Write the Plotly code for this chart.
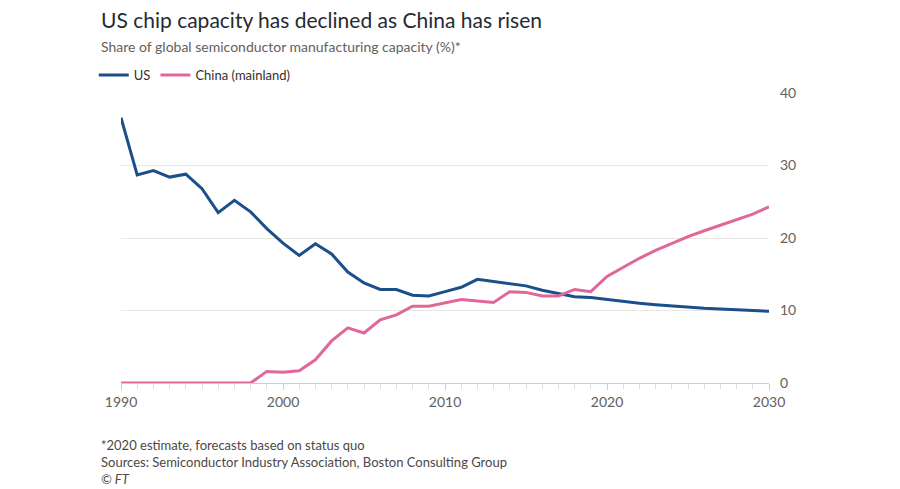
import plotly.graph_objects as go

years = list(range(1990, 2031))
us = [36.6, 28.7, 29.3, 28.4, 28.8, 26.8, 23.5, 25.2, 23.6, 21.3, 19.3, 17.6, 19.2, 17.8, 15.3, 13.8, 12.9, 12.9, 12.1, 12.0,
      12.6, 13.2, 14.3, 14.0, 13.7, 13.4, 12.8, 12.3, 11.9, 11.8, 11.5, 11.2, 11.0, 10.8, 10.6, 10.5, 10.3, 10.2, 10.1, 10.0, 9.9]
china = [0, 0, 0, 0, 0, 0, 0, 0, 0, 1.6, 1.5, 1.7, 3.2, 5.8, 7.6, 6.9, 8.7, 9.4, 10.6, 10.6,
         11.1, 11.5, 11.3, 11.1, 12.6, 12.5, 12.0, 12.0, 12.9, 12.6, 14.7, 16.0, 17.2, 18.3, 19.3, 20.2, 21.0, 21.8, 22.6, 23.3, 24.3]

font = "Lato, 'Open Sans', sans-serif"
fig = go.Figure()
fig.add_trace(go.Scatter(x=years, y=us, name="US", mode="lines", line=dict(color="#1a4f8a", width=3), cliponaxis=False))
fig.add_trace(go.Scatter(x=years, y=china, name="China (mainland)", mode="lines", line=dict(color="#e0679a", width=3), cliponaxis=False))

X0 = -0.034
fig.update_layout(
    width=900, height=489, paper_bgcolor="white", plot_bgcolor="white",
    margin=dict(l=113, r=139, t=85, b=114, autoexpand=False),
    font=dict(family=font, color="#66605c", size=14),
    showlegend=True,
    legend=dict(orientation="h", x=X0 - 0.008, xanchor="left", y=1.062, yanchor="middle", font=dict(size=13, color="#33302e"),
                bgcolor="rgba(0,0,0,0)"),
    xaxis=dict(range=[1990, 2030], tickvals=[1990, 2000, 2010, 2020, 2030], showgrid=False, zeroline=False,
               showline=True, linecolor="#cccccc", ticks="outside", ticklen=6, tickcolor="#cccccc",
               minor=dict(dtick=1, ticks="outside", ticklen=5, tickcolor="#dddddd"), tickfont=dict(size=14)),
    yaxis=dict(side="right", range=[0, 40], tickvals=[0, 10, 20, 30, 40], showgrid=True, gridcolor="#e9e6e3",
               zeroline=False, ticks="", tickfont=dict(size=14), ticklabelstandoff=10),
)
fig.add_annotation(text="US chip capacity has declined as China has risen", xref="paper", yref="paper",
                   x=X0, y=1.252, xanchor="left", yanchor="middle", showarrow=False, font=dict(size=21, color="#262a33"))
fig.add_annotation(text="Share of global semiconductor manufacturing capacity (%)*", xref="paper", yref="paper",
                   x=X0, y=1.162, xanchor="left", yanchor="middle", showarrow=False, font=dict(size=14, color="#66605c"))
fig.add_annotation(text="*2020 estimate, forecasts based on status quo<br>Sources: Semiconductor Industry Association, Boston Consulting Group<br><i>© FT</i>",
                   xref="paper", yref="paper", x=X0, y=-0.18, xanchor="left", yanchor="top", showarrow=False,
                   align="left", font=dict(size=13, color="#4d4845"))
fig.write_html("out.html")
